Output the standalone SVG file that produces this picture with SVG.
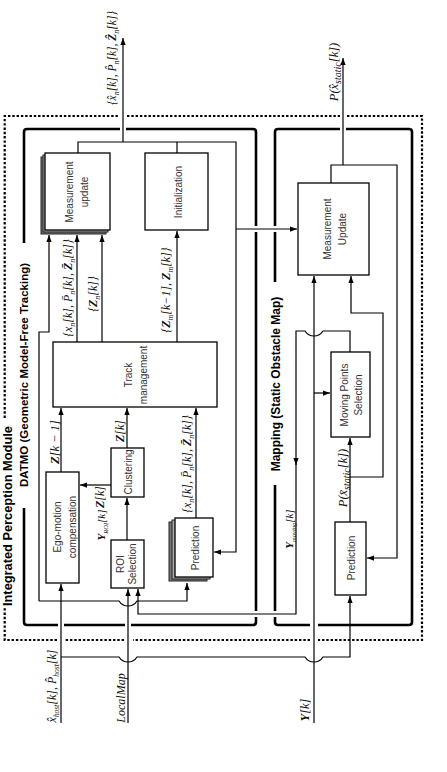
<svg xmlns="http://www.w3.org/2000/svg" width="447" height="772" viewBox="0 0 447 772">
<defs>
<style>
.bd{fill:none;stroke:#000;stroke-width:2.6}
.dt{fill:none;stroke:#000;stroke-width:2.2;stroke-dasharray:2.4 1.9}
.bx{fill:#fff;stroke:#000;stroke-width:1.3}
.sh{fill:#aaa;stroke:#222;stroke-width:1}
.ln{fill:none;stroke:#000;stroke-width:1.2}
.ar{marker-end:url(#ah)}
.t{font-family:"Liberation Sans",Arial,sans-serif;font-size:10px;fill:#333;text-anchor:middle}
.m{font-family:"Liberation Serif","Times New Roman",serif;font-style:italic;font-size:12px;fill:#111;text-anchor:middle}
.s{font-size:8px}
.b{font-weight:bold}
.ttl{font-family:"Liberation Sans",Arial,sans-serif;font-weight:bold;fill:#000}
</style>
<marker id="ah" viewBox="0 0 8 6" refX="8" refY="3" markerWidth="7" markerHeight="5.5" orient="auto" markerUnits="userSpaceOnUse"><path d="M0,0L8,3L0,6z" fill="#000"/></marker>
</defs>
<rect width="447" height="772" fill="#fff"/>

<g id="frames">
<path class="dt" d="M4.7,418V116H119M127,116H340M347,116H422V640H318M310,640H133M124,640H65M57,640H4.7V607"/>
<path class="bd" d="M24,243V132Q24,129 27,129H120M126,129H253Q256,129 256,132V226M256,232V611M256,617V622Q256,625 253,625H131M125,625H64M58,625H27Q24,625 24,622V508"/>
<path class="bd" d="M275,282V232M275,226V132Q275,129 278,129H340M346,129H409Q412,129 412,132V622Q412,625 409,625H318M310,625H278Q275,625 275,622V617M275,611V485"/>
<text class="ttl" transform="translate(11.5,606) rotate(-90)" style="font-size:12.8px">Integrated Perception Module</text>
<text class="ttl" transform="translate(28,375) rotate(-90)" style="font-size:11.5px;text-anchor:middle">DATMO (Geometric Model-Free Tracking)</text>
<text class="ttl" transform="translate(279.5,384) rotate(-90)" style="font-size:12px;text-anchor:middle">Mapping (Static Obstacle Map)</text>
</g>

<g id="connectors">
<path class="ln ar" d="M61,723V584"/>
<path class="ln ar" d="M39,601V332H49V235"/>
<path class="ln ar" d="M39,601H119A10.6 10.6 0 0 0 137,601H187V583"/>
<path class="ln ar" d="M61,657H119A10.6 10.6 0 0 0 137,657H305A10.6 10.6 0 0 0 323,657H350V596"/>
<path class="ln ar" d="M128,723V589"/>
<path class="ln ar" d="M314,723V276"/>
<path class="ln ar" d="M314,393H330"/>
<path class="ln ar" d="M350,352V331H323A10.6 10.6 0 0 1 305,331H296V465"/>
<path class="ln ar" d="M296,462V614H138V589"/>
<path class="ln ar" d="M350,522V438"/>
<path class="ln ar" d="M350,477H383V313H351V276"/>
<path class="ln ar" d="M331,183V165H397V558H367"/>
<path class="ln ar" d="M343,165V58"/>
<path class="ln ar" d="M78,153V142H236V552H214"/>
<path class="ln" d="M177,153V142"/>
<path class="ln ar" d="M123,142V38"/>
<path class="ln ar" d="M236,229H297"/>
<path class="ln ar" d="M77,342V235"/>
<path class="ln ar" d="M102,342V235"/>
<path class="ln ar" d="M177,342V231"/>
<path class="ln ar" d="M61,472V408"/>
<path class="ln ar" d="M111,485H80"/>
<path class="ln ar" d="M127,448V408"/>
<path class="ln ar" d="M127,540V498"/>
<path class="ln ar" d="M196,518V408"/>
</g>

<g id="labels">
<text class="m" transform="translate(116,58) rotate(-90)" style="font-size:11.5px">{x&#x302;<tspan class="s" dy="2.5">n</tspan><tspan dy="-2.5">[k], P&#x302;</tspan><tspan class="s" dy="2.5">n</tspan><tspan dy="-2.5">[k], </tspan><tspan class="b">Z&#x302;</tspan><tspan class="s" dy="2.5">n</tspan><tspan dy="-2.5">[k]}</tspan></text>
<text class="m" transform="translate(338,72) rotate(-90)" style="font-size:12.5px">P(x&#x302;<tspan style="font-size:10px" dy="2.5">static</tspan><tspan dy="-2.5">[k])</tspan></text>
<text class="m" transform="translate(72,288) rotate(-90)">{x<tspan class="s" dy="2.5">n</tspan><tspan dy="-2.5">[k], P&#x304;</tspan><tspan class="s" dy="2.5">n</tspan><tspan dy="-2.5">[k], </tspan><tspan class="b">Z&#x304;</tspan><tspan class="s" dy="2.5">n</tspan><tspan dy="-2.5">[k]}</tspan></text>
<text class="m" transform="translate(97,294) rotate(-90)">{<tspan class="b">Z</tspan><tspan class="s" dy="2.5">n</tspan><tspan dy="-2.5">[k]}</tspan></text>
<text class="m" transform="translate(170,290) rotate(-90)">{<tspan class="b">Z</tspan><tspan class="s" dy="2.5">m</tspan><tspan dy="-2.5">[k−1], </tspan><tspan class="b">Z</tspan><tspan class="s" dy="2.5">m</tspan><tspan dy="-2.5">[k]}</tspan></text>
<text class="m" transform="translate(59,442) rotate(-90)" style="font-size:12.5px"><tspan class="b">Z</tspan>[k − 1]</text>
<text class="m" transform="translate(124,431) rotate(-90)"><tspan class="b">Z</tspan>[k]</text>
<text class="m" transform="translate(104,497) rotate(-90)"><tspan class="b">Z</tspan>[k]</text>
<text class="m" transform="translate(105,525) rotate(-90)" style="font-size:11px"><tspan class="b">Y</tspan><tspan style="font-size:6.5px" dy="2.5">ROI</tspan><tspan dy="-2.5">[k]</tspan></text>
<text class="m" transform="translate(191,464) rotate(-90)">{x<tspan class="s" dy="2.5">n</tspan><tspan dy="-2.5">[k], P&#x304;</tspan><tspan class="s" dy="2.5">n</tspan><tspan dy="-2.5">[k], </tspan><tspan class="b">Z&#x304;</tspan><tspan class="s" dy="2.5">n</tspan><tspan dy="-2.5">[k]}</tspan></text>
<text class="m" transform="translate(347,478) rotate(-90)" style="font-size:12.5px">P(x&#x304;<tspan style="font-size:10px" dy="2.5">static</tspan><tspan dy="-2.5">[k])</tspan></text>
<text class="m" transform="translate(293,529) rotate(-90)" style="font-size:11px"><tspan class="b">Y</tspan><tspan style="font-size:6.5px" dy="2.5">moving</tspan><tspan dy="-2.5">[k]</tspan></text>
<text class="m" transform="translate(56,686) rotate(-90)">x&#x302;<tspan style="font-size:7.5px" dy="2.5">host</tspan><tspan dy="-2.5">[k], P&#x302;</tspan><tspan style="font-size:7.5px" dy="2.5">host</tspan><tspan dy="-2.5">[k]</tspan></text>
<text class="m" transform="translate(125,698) rotate(-90)">LocalMap</text>
<text class="m" transform="translate(309,710) rotate(-90)" style="font-size:12.5px"><tspan class="b">Y</tspan>[k]</text>
</g>

<g id="meas-update">
<rect class="sh" x="41" y="157" width="65" height="77" style="fill:#777"/>
<rect class="sh" x="43" y="155" width="65" height="77"/>
<rect class="bx" x="45" y="153" width="65" height="77"/>
<text class="t" transform="translate(72.5,192) rotate(-90)"><tspan x="0" y="0">Measurement</tspan><tspan x="0" y="15">update</tspan></text>
</g>
<g id="initialization">
<rect class="bx" x="145" y="153" width="63" height="77"/>
<text class="t" transform="translate(181.5,192) rotate(-90)">Initialization</text>
</g>
<g id="track-management">
<rect class="bx" x="53" y="342" width="164" height="65"/>
<text class="t" transform="translate(131.5,375) rotate(-90)"><tspan x="0" y="0">Track</tspan><tspan x="0" y="15">management</tspan></text>
</g>
<g id="ego-motion">
<rect class="bx" x="46" y="472" width="33" height="111"/>
<text class="t" transform="translate(60.5,527) rotate(-90)"><tspan x="0" y="0">Ego-motion</tspan><tspan x="0" y="15">compensation</tspan></text>
</g>
<g id="clustering">
<rect class="bx" x="111" y="448" width="33" height="49"/>
<text class="t" transform="translate(131.5,472) rotate(-90)">Clustering</text>
</g>
<g id="roi-selection">
<rect class="bx" x="111" y="540" width="33" height="48"/>
<text class="t" transform="translate(124,564) rotate(-90)"><tspan x="0" y="0">ROI</tspan><tspan x="0" y="12">Selection</tspan></text>
</g>
<g id="prediction-datmo">
<rect class="sh" x="169" y="522" width="38" height="59" style="fill:#777"/>
<rect class="sh" x="172" y="520" width="38" height="59"/>
<rect class="bx" x="175" y="518" width="38" height="59"/>
<text class="t" transform="translate(198.5,548) rotate(-90)">Prediction</text>
</g>
<g id="measurement-update-map">
<rect class="bx" x="298" y="183" width="71" height="92"/>
<text class="t" transform="translate(330.5,229) rotate(-90)"><tspan x="0" y="0">Measurement</tspan><tspan x="0" y="15">Update</tspan></text>
</g>
<g id="moving-points">
<rect class="bx" x="331" y="352" width="39" height="85"/>
<text class="t" transform="translate(347.5,395) rotate(-90)"><tspan x="0" y="0">Moving Points</tspan><tspan x="0" y="14">Selection</tspan></text>
</g>
<g id="prediction-map">
<rect class="bx" x="335" y="522" width="31" height="73"/>
<text class="t" transform="translate(354.5,558) rotate(-90)">Prediction</text>
</g>
</svg>
